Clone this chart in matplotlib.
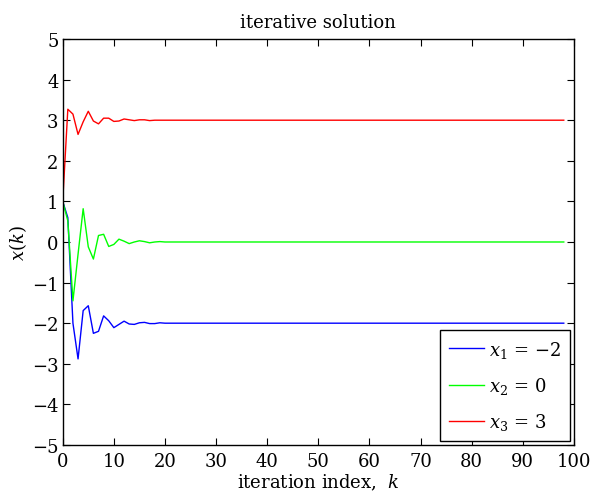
import matplotlib
matplotlib.use("Agg")
import matplotlib.pyplot as plt

plt.rcParams['font.family'] = ['DejaVu Serif']
plt.rcParams['mathtext.fontset'] = 'dejavuserif'

k = list(range(99))

x1 = [1.0, 0.6, -2.0, -2.88, -1.69, -1.57, -2.25, -2.2, -1.82, -1.94,
      -2.11, -2.03, -1.95, -2.02, -2.03, -1.99, -1.98, -2.01, -2.01, -1.99,
      -2.0, -2.0, -2.0, -2.0, -2.0, -2.0, -2.0, -2.0, -2.0, -2.0,
      -2.0, -2.0, -2.0, -2.0, -2.0, -2.0, -2.0, -2.0, -2.0, -2.0,
      -2.0, -2.0, -2.0, -2.0, -2.0, -2.0, -2.0, -2.0, -2.0, -2.0,
      -2.0, -2.0, -2.0, -2.0, -2.0, -2.0, -2.0, -2.0, -2.0, -2.0,
      -2.0, -2.0, -2.0, -2.0, -2.0, -2.0, -2.0, -2.0, -2.0, -2.0,
      -2.0, -2.0, -2.0, -2.0, -2.0, -2.0, -2.0, -2.0, -2.0, -2.0,
      -2.0, -2.0, -2.0, -2.0, -2.0, -2.0, -2.0, -2.0, -2.0, -2.0,
      -2.0, -2.0, -2.0, -2.0, -2.0, -2.0, -2.0, -2.0, -2.0]

x2 = [1.0, 0.52, -1.45, -0.3, 0.82, -0.12, -0.42, 0.16, 0.19, -0.11,
      -0.06, 0.07, 0.02, -0.04, 0.0, 0.03, 0.01, -0.02, 0.0, 0.01,
      0.0, 0.0, 0.0, 0.0, 0.0, 0.0, 0.0, 0.0, 0.0, 0.0,
      0.0, 0.0, 0.0, 0.0, 0.0, 0.0, 0.0, 0.0, 0.0, 0.0,
      0.0, 0.0, 0.0, 0.0, 0.0, 0.0, 0.0, 0.0, 0.0, 0.0,
      0.0, 0.0, 0.0, 0.0, 0.0, 0.0, 0.0, 0.0, 0.0, 0.0,
      0.0, 0.0, 0.0, 0.0, 0.0, 0.0, 0.0, 0.0, 0.0, 0.0,
      0.0, 0.0, 0.0, 0.0, 0.0, 0.0, 0.0, 0.0, 0.0, 0.0,
      0.0, 0.0, 0.0, 0.0, 0.0, 0.0, 0.0, 0.0, 0.0, 0.0,
      0.0, 0.0, 0.0, 0.0, 0.0, 0.0, 0.0, 0.0, 0.0]

x3 = [1.0, 3.27, 3.15, 2.65, 2.96, 3.22, 2.98, 2.91, 3.05, 3.05,
      2.97, 2.98, 3.03, 3.01, 2.99, 3.01, 3.01, 2.99, 3.0, 3.0,
      3.0, 3.0, 3.0, 3.0, 3.0, 3.0, 3.0, 3.0, 3.0, 3.0,
      3.0, 3.0, 3.0, 3.0, 3.0, 3.0, 3.0, 3.0, 3.0, 3.0,
      3.0, 3.0, 3.0, 3.0, 3.0, 3.0, 3.0, 3.0, 3.0, 3.0,
      3.0, 3.0, 3.0, 3.0, 3.0, 3.0, 3.0, 3.0, 3.0, 3.0,
      3.0, 3.0, 3.0, 3.0, 3.0, 3.0, 3.0, 3.0, 3.0, 3.0,
      3.0, 3.0, 3.0, 3.0, 3.0, 3.0, 3.0, 3.0, 3.0, 3.0,
      3.0, 3.0, 3.0, 3.0, 3.0, 3.0, 3.0, 3.0, 3.0, 3.0,
      3.0, 3.0, 3.0, 3.0, 3.0, 3.0, 3.0, 3.0, 3.0]

labels = ['$x_1$ = \u22122', '$x_2$ = 0', '$x_3$ = 3']
colors = ['#0000ff', '#00ff00', '#ff0000']

fig = plt.figure(figsize=(5.95, 5.02), dpi=100)
ax = fig.add_axes([0.1054, 0.1116, 0.8593, 0.8087])

for y, lab, c in zip([x1, x2, x3], labels, colors):
    ax.plot(k, y, color=c, lw=1.0, label=lab)

ax.set_xlim(0, 100)
ax.set_ylim(-5, 5)
ax.set_xticks(range(0, 101, 10))
ax.set_yticks(range(-5, 6))
ax.set_yticklabels(['\u2212%d' % -v if v < 0 else '%d' % v for v in range(-5, 6)])
ax.tick_params(direction='in', top=True, right=True, length=5, width=0.8,
               labelsize=13)
ax.tick_params(axis='x', pad=5)
ax.tick_params(axis='y', pad=3)
for s in ax.spines.values():
    s.set_linewidth(1.0)

ax.set_title('iterative solution', fontsize=13, pad=9)
ax.set_xlabel('iteration index,  $k$', fontsize=13, labelpad=1)
ax.set_ylabel('$x(k)$', fontsize=13, labelpad=2)

leg = ax.legend(loc='lower right', fontsize=13, fancybox=False,
                edgecolor='black', framealpha=1, borderaxespad=0.2,
                handlelength=1.95, handletextpad=0.3, labelspacing=0.85,
                borderpad=0.5)
leg.get_frame().set_linewidth(1.0)

fig.savefig('out.png', dpi=100)
